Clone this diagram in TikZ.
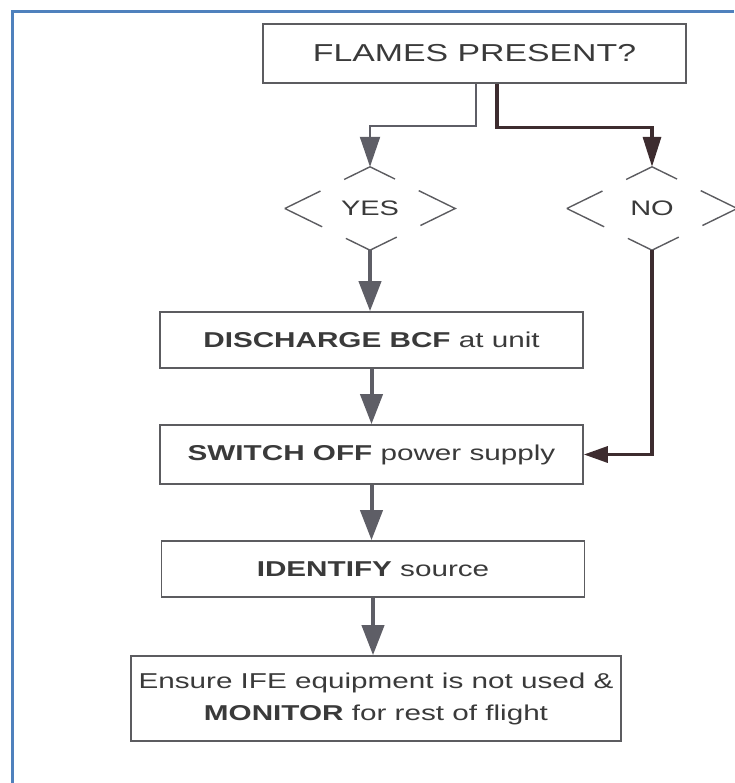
\documentclass[tikz,border=0pt]{standalone}
\usepackage{fontspec}
\setmainfont{Liberation Sans}[FakeStretch=1.38]
\usetikzlibrary{arrows.meta, calc}
\definecolor{framebl}{HTML}{4F81BD}
\definecolor{boxgr}{HTML}{5C5C60}
\definecolor{txtgr}{HTML}{3A3A3A}
\definecolor{arrgr}{HTML}{5E5E66}
\definecolor{nodark}{HTML}{3D2C2F}
\tikzset{
  stepbox/.style={draw=boxgr, line width=1.6pt, text=txtgr, minimum width=423pt, minimum height=56pt, inner sep=0pt, font=\fontsize{21.5}{32}\selectfont, align=center},
  answer/.style={minimum width=170pt, minimum height=83pt, inner sep=0pt, text=txtgr, font=\fontsize{21}{26}\selectfont},
  brokenside/.style={draw=boxgr, line width=1.4pt, dash pattern=on 79.3pt off 26.4pt on 56.6pt off 26.4pt, dash phase=39.6pt},
  flowarrow/.style={draw=arrgr, line width=4pt, -{Triangle[length=30pt, width=22pt]}},
  thinflow/.style={draw=arrgr, line width=2pt, -{Triangle[length=30pt, width=20pt]}},
  noflow/.style={draw=nodark, line width=3.3pt, -{Triangle[length=30pt, width=18pt]}}
}
\begin{document}
\begin{tikzpicture}[x=1pt, y=-1pt]
            \useasboundingbox (0,0) rectangle (734,783);
            \draw[framebl, line width=3pt] (12,783) -- (12,11.5) -- (734,11.5);

            \node[stepbox, minimum height=59pt, font=\fontsize{24.5}{30}\selectfont] (flames) at (474.5,53.5) {FLAMES PRESENT?};
            \node[answer] (yes) at (370,208.5) {YES};
            \node[answer] (no) at (652,208.5) {NO};
            \node[stepbox] (discharge) at (371.5,340) {\textbf{DISCHARGE BCF} at unit};
            \node[stepbox, minimum height=59pt] (switch) at (371.5,454.5) {\textbf{SWITCH OFF} power supply};
            \node[stepbox] (identify) at (373,569) {\textbf{IDENTIFY} source};
            \node[stepbox, minimum width=490pt, minimum height=85pt] (ensure) at (376,698.5) {Ensure IFE equipment is not used \&\\\textbf{MONITOR} for rest of flight};

            \draw[brokenside] (yes.west) -- (yes.north) -- (yes.east) -- (yes.south) -- cycle;
            \draw[brokenside] (no.west) -- (no.north) -- (no.east) -- (no.south) -- cycle;

            \draw[thinflow] ([xshift=1.5pt]flames.south) -- ++(0,42) -| (yes.north);
            \draw[noflow] ([xshift=22.5pt]flames.south) -- ++(0,44) -| (no.north);
            \draw[noflow, -{Triangle[length=24pt, width=16pt]}] (no.south) |- (switch.east);
            \draw[flowarrow] (yes.south) -- (yes.south |- discharge.north);
            \draw[flowarrow] (discharge.south) -- (switch.north);
            \draw[flowarrow] (switch.south) -- (switch.south |- identify.north);
            \draw[flowarrow] (identify.south) -- (identify.south |- ensure.north);
        \end{tikzpicture}
\end{document}
